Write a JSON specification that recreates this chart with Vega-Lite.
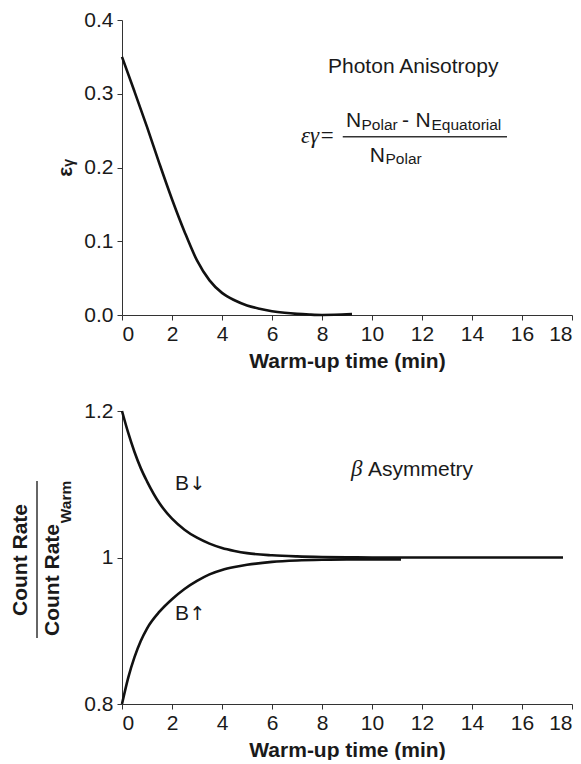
{
  "$schema": "https://vega.github.io/schema/vega-lite/v6.json",
  "padding": {"top": 9, "left": 10, "right": 0, "bottom": 0},
  "background": "white",
  "bounds": "flush",
  "spacing": 96,
  "config": {
    "view": {"stroke": null},
    "font": "Liberation Sans",
    "axis": {
      "labelFont": "Liberation Sans", "labelFontSize": 21, "labelColor": "#1a1a1a",
      "titleFont": "Liberation Sans", "titleFontSize": 21, "titleFontWeight": "bold", "titleColor": "#1a1a1a",
      "domainColor": "#333", "tickColor": "#333", "tickSize": 5, "grid": false, "domainWidth": 1, "tickWidth": 1
    }
  },
  "datasets": {
    "eps": [
      {"x": 0, "y": 0.35}, {"x": 0.5, "y": 0.303}, {"x": 1, "y": 0.255}, {"x": 1.5, "y": 0.205},
      {"x": 2, "y": 0.157}, {"x": 2.5, "y": 0.113}, {"x": 3, "y": 0.074}, {"x": 3.5, "y": 0.047},
      {"x": 4, "y": 0.03}, {"x": 4.5, "y": 0.02}, {"x": 5, "y": 0.013}, {"x": 5.5, "y": 0.0085},
      {"x": 6, "y": 0.0052}, {"x": 6.5, "y": 0.003}, {"x": 7, "y": 0.0015}, {"x": 7.5, "y": 0.0006},
      {"x": 8, "y": 0.0001}, {"x": 8.5, "y": 0.0003}, {"x": 9.2, "y": 0.0012}
    ],
    "bdown": [
      {"x": 0, "y": 1.2}, {"x": 0.25, "y": 1.17}, {"x": 0.5, "y": 1.144}, {"x": 0.75, "y": 1.122},
      {"x": 1, "y": 1.104}, {"x": 1.5, "y": 1.074}, {"x": 2, "y": 1.053}, {"x": 2.5, "y": 1.038},
      {"x": 3, "y": 1.027}, {"x": 3.5, "y": 1.019}, {"x": 4, "y": 1.013}, {"x": 4.5, "y": 1.009},
      {"x": 5, "y": 1.006}, {"x": 6, "y": 1.003}, {"x": 7, "y": 1.0015}, {"x": 8, "y": 1.0007},
      {"x": 9, "y": 1.0003}, {"x": 10, "y": 1.0}, {"x": 12, "y": 1.0}, {"x": 14, "y": 1.0},
      {"x": 16, "y": 1.0}, {"x": 17.64, "y": 1.0}
    ],
    "bup": [
      {"x": 0, "y": 0.8}, {"x": 0.25, "y": 0.836}, {"x": 0.5, "y": 0.864}, {"x": 0.75, "y": 0.886},
      {"x": 1, "y": 0.903}, {"x": 1.5, "y": 0.926}, {"x": 2, "y": 0.943}, {"x": 2.5, "y": 0.957},
      {"x": 3, "y": 0.968}, {"x": 3.5, "y": 0.977}, {"x": 4, "y": 0.983}, {"x": 4.5, "y": 0.987},
      {"x": 5, "y": 0.99}, {"x": 6, "y": 0.994}, {"x": 7, "y": 0.996}, {"x": 8, "y": 0.997},
      {"x": 9, "y": 0.9975}, {"x": 10, "y": 0.9975}, {"x": 11.16, "y": 0.9975}
    ],
    "topBig": [
      {"label": "Photon Anisotropy", "x": 8.24, "y": 0.3281},
      {"label": "N", "x": 8.96, "y": 0.2549},
      {"label": "-", "x": 11.2, "y": 0.2549},
      {"label": "N", "x": 11.74, "y": 0.2549},
      {"label": "N", "x": 9.91, "y": 0.2079}
    ],
    "topSmall": [
      {"label": "Polar", "x": 9.58, "y": 0.2512},
      {"label": "Equatorial", "x": 12.38, "y": 0.2512},
      {"label": "Polar", "x": 10.54, "y": 0.2042}
    ],
    "topSerif": [{"label": "εγ=", "x": 7.16, "y": 0.2337}],
    "topBar": [{"x": 8.83, "x2": 15.4, "y": 0.2418}],
    "botBig": [
      {"label": "B", "x": 2.12, "y": 1.0922},
      {"label": "B", "x": 2.12, "y": 0.9147},
      {"label": "Asymmetry", "x": 9.84, "y": 1.1113}
    ],
    "botArrow": [
      {"label": "↓", "x": 2.7, "y": 1.0922},
      {"label": "↑", "x": 2.7, "y": 0.9147}
    ],
    "botSerif": [{"label": "β", "x": 9.16, "y": 1.1113}],
    "botTitle": [
      {"label": "Count Rate", "x": -4.04, "y": 0.9966},
      {"label": "Count Rate", "x": -2.76, "y": 0.9693}
    ],
    "botSub": [{"label": "Warm", "x": -2.26, "y": 1.0758}],
    "botBar": [{"x": -3.4, "y": 0.8901, "y2": 1.1044}]
  },
  "vconcat": [
    {
      "width": 450,
      "height": 295,
      "encoding": {
        "x": {"field": "x", "type": "quantitative", "scale": {"domain": [0, 18], "nice": false},
              "axis": {"values": [0, 2, 4, 6, 8, 10, 12, 14, 16, 18], "format": "d", "title": "Warm-up time (min)", "labelPadding": 3, "titlePadding": 6}},
        "y": {"field": "y", "type": "quantitative", "scale": {"domain": [0, 0.4], "nice": false},
              "axis": {"values": [0, 0.1, 0.2, 0.3, 0.4], "format": ".1f", "title": "εᵧ", "labelPadding": 4, "titlePadding": 8}}
      },
      "layer": [
        {"data": {"name": "eps"}, "mark": {"type": "line", "color": "#111", "strokeWidth": 2.6, "interpolate": "monotone", "clip": false}},
        {"data": {"name": "topBig"}, "mark": {"type": "text", "align": "left", "baseline": "alphabetic", "fontSize": 21, "color": "#1a1a1a", "font": "Liberation Sans"},
         "encoding": {"text": {"field": "label"}}},
        {"data": {"name": "topSmall"}, "mark": {"type": "text", "align": "left", "baseline": "alphabetic", "fontSize": 15.5, "color": "#1a1a1a", "font": "Liberation Sans"},
         "encoding": {"text": {"field": "label"}}},
        {"data": {"name": "topSerif"}, "mark": {"type": "text", "align": "left", "baseline": "alphabetic", "fontSize": 23, "fontStyle": "italic", "color": "#1a1a1a", "font": "Liberation Serif"},
         "encoding": {"text": {"field": "label"}}},
        {"data": {"name": "topBar"}, "mark": {"type": "rule", "color": "#333", "strokeWidth": 1.5},
         "encoding": {"x2": {"field": "x2"}}}
      ]
    },
    {
      "width": 450,
      "height": 293,
      "encoding": {
        "x": {"field": "x", "type": "quantitative", "scale": {"domain": [0, 18], "nice": false},
              "axis": {"values": [0, 2, 4, 6, 8, 10, 12, 14, 16, 18], "format": "d", "title": "Warm-up time (min)", "labelPadding": 3, "titlePadding": 6}},
        "y": {"field": "y", "type": "quantitative", "scale": {"domain": [0.8, 1.2], "nice": false},
              "axis": {"values": [0.8, 1, 1.2], "format": "~g", "title": null, "labelPadding": 4}}
      },
      "layer": [
        {"data": {"name": "bdown"}, "mark": {"type": "line", "color": "#111", "strokeWidth": 2.6, "interpolate": "monotone", "clip": false}},
        {"data": {"name": "bup"}, "mark": {"type": "line", "color": "#111", "strokeWidth": 2.6, "interpolate": "monotone", "clip": false}},
        {"data": {"name": "botBig"}, "mark": {"type": "text", "align": "left", "baseline": "alphabetic", "fontSize": 21, "color": "#1a1a1a", "font": "Liberation Sans"},
         "encoding": {"text": {"field": "label"}}},
        {"data": {"name": "botArrow"}, "mark": {"type": "text", "align": "left", "baseline": "alphabetic", "fontSize": 19, "color": "#1a1a1a", "font": "DejaVu Sans"},
         "encoding": {"text": {"field": "label"}}},
        {"data": {"name": "botSerif"}, "mark": {"type": "text", "align": "left", "baseline": "alphabetic", "fontSize": 23, "fontStyle": "italic", "color": "#1a1a1a", "font": "Liberation Serif"},
         "encoding": {"text": {"field": "label"}}},
        {"data": {"name": "botTitle"}, "mark": {"type": "text", "align": "center", "baseline": "middle", "angle": 270, "fontSize": 21, "fontWeight": "bold", "color": "#1a1a1a", "font": "Liberation Sans", "clip": false},
         "encoding": {"text": {"field": "label"}}},
        {"data": {"name": "botSub"}, "mark": {"type": "text", "align": "center", "baseline": "middle", "angle": 270, "fontSize": 15.5, "fontWeight": "bold", "color": "#1a1a1a", "font": "Liberation Sans", "clip": false},
         "encoding": {"text": {"field": "label"}}},
        {"data": {"name": "botBar"}, "mark": {"type": "rule", "color": "#333", "strokeWidth": 1.5, "clip": false},
         "encoding": {"y2": {"field": "y2"}}}
      ]
    }
  ]
}
